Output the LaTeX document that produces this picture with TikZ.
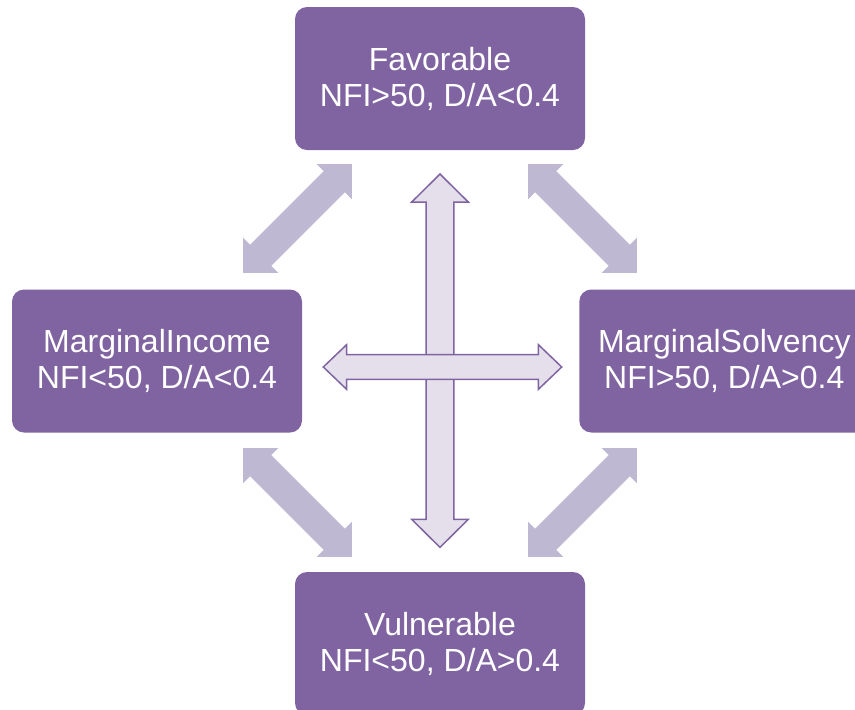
\documentclass[tikz,border=0pt]{standalone}
\usepackage{fontspec}
\setmainfont{Liberation Sans}
\definecolor{boxpurple}{HTML}{8064A2}
\definecolor{lightarrow}{HTML}{BFB8D2}
\definecolor{palefill}{HTML}{E5DFEC}
\newcommand{\DblArr}[8]{%
  \begin{scope}[shift={(#1,#2)},rotate=#3]
    \path[#8] ({-#4/2},0) -- ({-#4/2+#7},#6) -- ({-#4/2+#7},#5) -- ({#4/2-#7},#5)
      -- ({#4/2-#7},#6) -- ({#4/2},0) -- ({#4/2-#7},-#6) -- ({#4/2-#7},-#5)
      -- ({-#4/2+#7},-#5) -- ({-#4/2+#7},-#6) -- cycle;
  \end{scope}}
\tikzset{
  statebox/.style={fill=boxpurple, draw=none, rounded corners=12pt,
    minimum width=290pt, minimum height=143pt, inner sep=0pt,
    text=white, align=center, font=\fontsize{32}{36}\selectfont},
  lightarr/.style={fill=lightarrow, draw=none},
  palearr/.style={fill=palefill, draw=boxpurple, line width=1.5pt, line join=miter}
}
\begin{document}
\begin{tikzpicture}[x=1pt,y=-1pt]
\useasboundingbox (0,0) rectangle (855,710);
\clip (0,0) rectangle (855,710);
% light diagonal double arrows
\DblArr{297.5}{218.5}{45}{154}{15}{25}{25}{lightarr}
\DblArr{582.5}{218.5}{-45}{154}{15}{25}{25}{lightarr}
\DblArr{297.5}{502.5}{-45}{154}{15}{25}{25}{lightarr}
\DblArr{582.5}{502.5}{45}{154}{15}{25}{25}{lightarr}
% boxes
\node[statebox] (fav) at (440,78.5) {Favorable\\NFI>50, D/A<0.4};
\node[statebox] (inc) at (157,361) {MarginalIncome\\NFI<50, D/A<0.4};
\node[statebox] (sol) at (724.3,361) {MarginalSolvency\\NFI>50, D/A>0.4};
\node[statebox] (vul) at (440,643.5) {Vulnerable\\NFI<50, D/A>0.4};
% central cross arrows
\DblArr{440}{360.7}{90}{373.3}{13.8}{28.3}{28}{palearr}
\DblArr{442.5}{367}{0}{238.4}{12.3}{22.4}{23.4}{palearr}
\end{tikzpicture}
\end{document}
